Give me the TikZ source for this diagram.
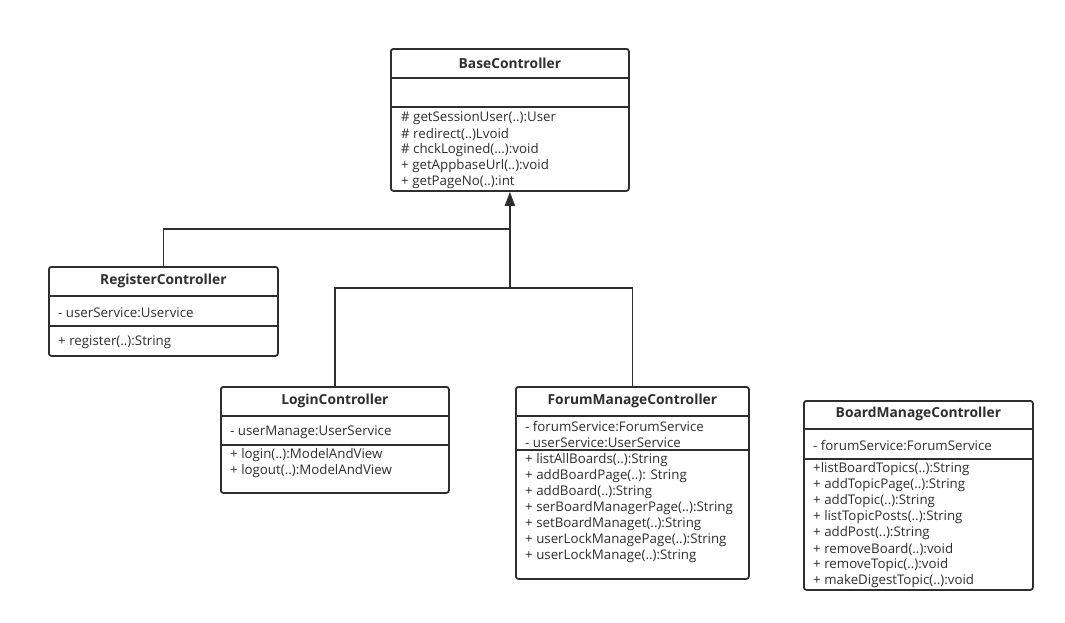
\documentclass[tikz,border=0pt]{standalone}
\usepackage{fontspec}
\setmainfont{Open Sans}
\usetikzlibrary{arrows.meta,calc,positioning}
\colorlet{ink}{black!82}
\tikzset{cls/.style={draw=ink,line width=1.8pt,rounded corners=2.5pt,anchor=north west,inner sep=0pt,fill=white},
  ttl/.style={font=\fontsize{13.8}{15}\selectfont\bfseries,text=ink,inner sep=0pt},
  mbr/.style={anchor=west,inner sep=0pt,yshift=-1.5pt,text=ink,font=\fontsize{13.3}{15}\selectfont},
  sep/.style={draw=ink,line width=1.8pt},
  link/.style={draw=ink,line width=1.8pt},
  inh/.style={link,-{Triangle[length=14pt,width=10pt]}}}

\begin{document}
\begin{tikzpicture}[x=1pt,y=-1pt]
\useasboundingbox (0,0) rectangle (1065,622);
% base class
\node[cls,minimum width=238pt,minimum height=142pt] (base) at (390,48) {};
\node[ttl] (baseT) at (base.north |- 0,63) {BaseController};
\draw[sep] (base.west |- 0,78) -- (base.east |- 0,78);
\draw[sep] (base.west |- 0,107) -- (base.east |- 0,107);
\node[mbr] (base-m0) at (401,117) {\# getSessionUser(..):User};
\node[mbr] (base-m1) at (401,133) {\# redirect(..)Lvoid};
\node[mbr] (base-m2) at (401,149) {\# chckLogined(...):void};
\node[mbr] (base-m3) at (401,165) {+ getAppbaseUrl(..):void};
\node[mbr] (base-m4) at (401,181) {+ getPageNo(..):int};
% RegisterController
\node[cls,minimum width=229pt,minimum height=89pt] (reg) at (48,266) {};
\node[ttl] (regT) at (reg.north |- 0,281) {RegisterController};
\draw[sep] (reg.west |- 0,296) -- (reg.east |- 0,296);
\draw[sep] (reg.west |- 0,326) -- (reg.east |- 0,326);
\node[mbr] (reg-a0) at (58,311) {- userService:Uservice};
\node[mbr] (reg-m0) at (58,341) {+ register(..):String};
% LoginController
\node[cls,minimum width=228pt,minimum height=106pt] (login) at (220,386) {};
\node[ttl] (loginT) at (login.north |- 0,401) {LoginController};
\draw[sep] (login.west |- 0,416) -- (login.east |- 0,416);
\draw[sep] (login.west |- 0,445) -- (login.east |- 0,445);
\node[mbr] (login-a0) at (230,431) {- userManage:UserService};
\node[mbr] (login-m0) at (230,454) {+ login(..):ModelAndView};
\node[mbr] (login-m1) at (230,470) {+ logout(..):ModelAndView};
% ForumManageController
\node[cls,minimum width=233pt,minimum height=192pt] (forum) at (515,386) {};
\node[ttl] (forumT) at (forum.north |- 0,401) {ForumManageController};
\draw[sep] (forum.west |- 0,416) -- (forum.east |- 0,416);
\draw[sep] (forum.west |- 0,450) -- (forum.east |- 0,450);
\node[mbr] (forum-a0) at (525,425) {- forumService:ForumService};
\node[mbr] (forum-a1) at (525,441) {- userService:UserService};
\node[mbr] (forum-m0) at (525,459) {+ listAllBoards(..):String};
\node[mbr] (forum-m1) at (525,475) {+ addBoardPage(..): String};
\node[mbr] (forum-m2) at (525,491) {+ addBoard(..):String};
\node[mbr] (forum-m3) at (525,507) {+ serBoardManagerPage(..):String};
\node[mbr] (forum-m4) at (525,523) {+ setBoardManaget(..):String};
\node[mbr] (forum-m5) at (525,539) {+ userLockManagePage(..):String};
\node[mbr] (forum-m6) at (525,555) {+ userLockManage(..):String};
% BoardManageController
\node[cls,minimum width=229pt,minimum height=189pt] (board) at (803,400) {};
\node[ttl] (boardT) at (board.north |- 0,414) {BoardManageController};
\draw[sep] (board.west |- 0,429) -- (board.east |- 0,429);
\draw[sep] (board.west |- 0,459) -- (board.east |- 0,459);
\node[mbr] (board-a0) at (813,444) {- forumService:ForumService};
\node[mbr] (board-m0) at (813,468) {+listBoardTopics(..):String};
\node[mbr] (board-m1) at (813,484) {+ addTopicPage(..):String};
\node[mbr] (board-m2) at (813,500) {+ addTopic(..):String};
\node[mbr] (board-m3) at (813,516) {+ listTopicPosts(..):String};
\node[mbr] (board-m4) at (813,532) {+ addPost(..):String};
\node[mbr] (board-m5) at (813,548) {+ removeBoard(..):void};
\node[mbr] (board-m6) at (813,564) {+ removeTopic(..):void};
\node[mbr] (board-m7) at (813,580) {+ makeDigestTopic(..):void};
% inheritance
\coordinate (j1) at (base.south |- 0,229);
\coordinate (j2) at (base.south |- 0,288);
\draw[link] (reg.north) |- (j1);
\draw[link] (login.north) |- (j2) -| (forum.north);
\draw[inh] (j2) -- (base.south);
\end{tikzpicture}
\end{document}
